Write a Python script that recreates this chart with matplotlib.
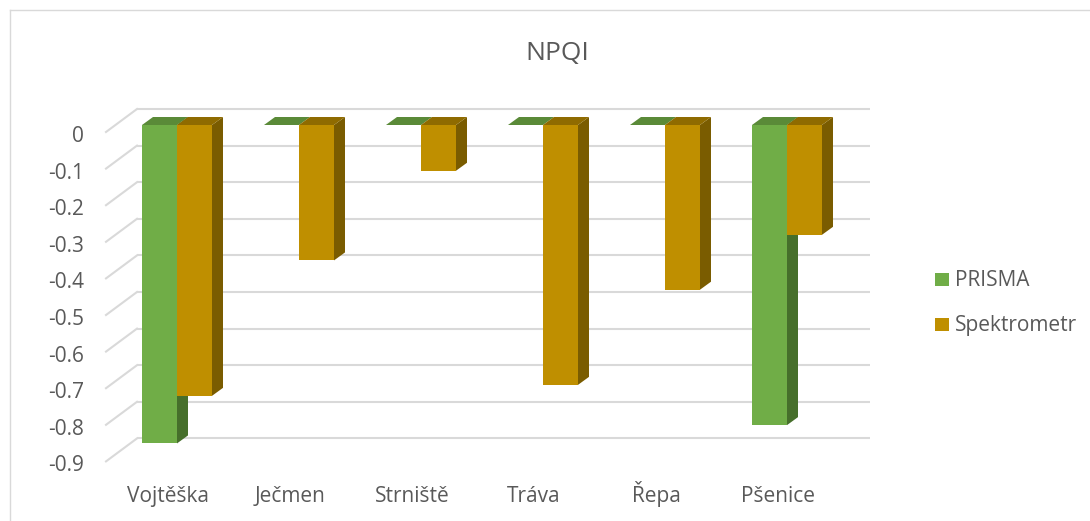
import matplotlib.pyplot as plt
from matplotlib.patches import Polygon, Rectangle
from matplotlib.transforms import ScaledTranslation

plt.rcParams['font.family'] = ['Open Sans', 'DejaVu Sans']

categories = ['Vojtěška', 'Ječmen', 'Strniště', 'Tráva', 'Řepa', 'Pšenice']
prisma = [-0.87, 0.0, 0.0, 0.0, 0.0, -0.82]
spektrometr = [-0.74, -0.37, -0.125, -0.71, -0.45, -0.30]
y_ticks = [0, -0.1, -0.2, -0.3, -0.4, -0.5, -0.6, -0.7, -0.8, -0.9]
y_labels = ['0', '-0.1', '-0.2', '-0.3', '-0.4', '-0.5', '-0.6', '-0.7', '-0.8', '-0.9']

W, H = 1090, 521
fig = plt.figure(figsize=(W / 100, H / 100), dpi=100)

# axes box in pixels: x 95..880, y 100..470
ax = fig.add_axes([95 / W, (H - 470) / H, 785 / W, 370 / H])
px_x = 122.0   # pixels per category
px_y = 366.0   # pixels per unit value
ax.set_xlim((95 - 177) / px_x, (880 - 177) / px_x)
ax.set_ylim(-(470 - 125) / px_y, (125 - 100) / px_y)
for s in ax.spines.values():
    s.set_visible(False)

text_col = '#595959'
grid_col = '#d9d9d9'
fs = 15

# back wall grid and the slanted side-wall lines
back_dy = 16 / px_y
wall_x0 = (137 - 177) / px_x
wall_x1 = (870 - 177) / px_x
front_x = (106 - 177) / px_x
front_dy = -7 / px_y
for v in y_ticks:
    ax.plot([wall_x0, wall_x1], [v + back_dy, v + back_dy], color=grid_col, lw=1.5, zorder=1,
            solid_capstyle='butt')
    ax.plot([front_x, wall_x0], [v + front_dy, v + back_dy], color=grid_col, lw=1.5, zorder=1)

bw = 35 / px_x
ddx = 11 / px_x
ddy = 8 / px_y

series = [
    (prisma, '#70ad47', '#466f2b', '#5a8a38', 'PRISMA', -bw),
    (spektrometr, '#bf8f00', '#7a5c00', '#8f6b00', 'Spektrometr', 0.0),
]

for i in range(len(categories)):
    for vals, front, side, top, name, off in series:
        v = vals[i]
        x0 = i + off
        x1 = x0 + bw
        z = 3 + i * 0.01
        if v != 0:
            ax.bar(x0, v, width=bw, align='edge', color=front, edgecolor='none', zorder=z)
            ax.add_patch(Polygon([(x1, 0), (x1 + ddx, ddy), (x1 + ddx, v + ddy), (x1, v)],
                                 closed=True, fc=side, ec='none', zorder=z))
        ax.add_patch(Polygon([(x0, 0), (x1, 0), (x1 + ddx, ddy), (x0 + ddx, ddy)],
                             closed=True, fc=top, ec='none', zorder=z))

# value labels sit on the front plane, a few pixels below the bar plane
ax.set_yticks(y_ticks)
ax.set_yticklabels(y_labels, color=text_col, fontsize=fs)
ax.tick_params(axis='y', length=0, pad=8)
shift_y = ScaledTranslation(0, -9 / 100, fig.dpi_scale_trans)
for lab in ax.get_yticklabels():
    lab.set_transform(lab.get_transform() + shift_y)
    lab.set_verticalalignment('center_baseline')

ax.set_xticks(range(len(categories)))
ax.set_xticklabels(categories, color=text_col, fontsize=fs)
ax.tick_params(axis='x', length=0, pad=23)
shift_x = ScaledTranslation(-9 / 100, 0, fig.dpi_scale_trans)
for lab in ax.get_xticklabels():
    lab.set_transform(lab.get_transform() + shift_x)
    lab.set_verticalalignment('baseline')

fig.text(557 / W, 1 - 60 / H, 'NPQI', ha='center', va='baseline', fontsize=19, color=text_col)

# legend
for k, (vals, front, side, top, name, off) in enumerate(series):
    base = 286 + 45 * k
    fig.patches.append(Rectangle((935 / W, 1 - base / H), 14 / W, 13 / H,
                                 transform=fig.transFigure, fc=front, ec='none'))
    fig.text(955 / W, 1 - base / H, name, ha='left', va='baseline', fontsize=fs, color=text_col)

# chart area border
fig.add_artist(plt.Line2D([10 / W, 10 / W], [0, 1 - 10 / H], color=grid_col, lw=1))
fig.add_artist(plt.Line2D([10 / W, 1], [1 - 10 / H, 1 - 10 / H], color=grid_col, lw=1))

fig.savefig('out.png', dpi=100)
